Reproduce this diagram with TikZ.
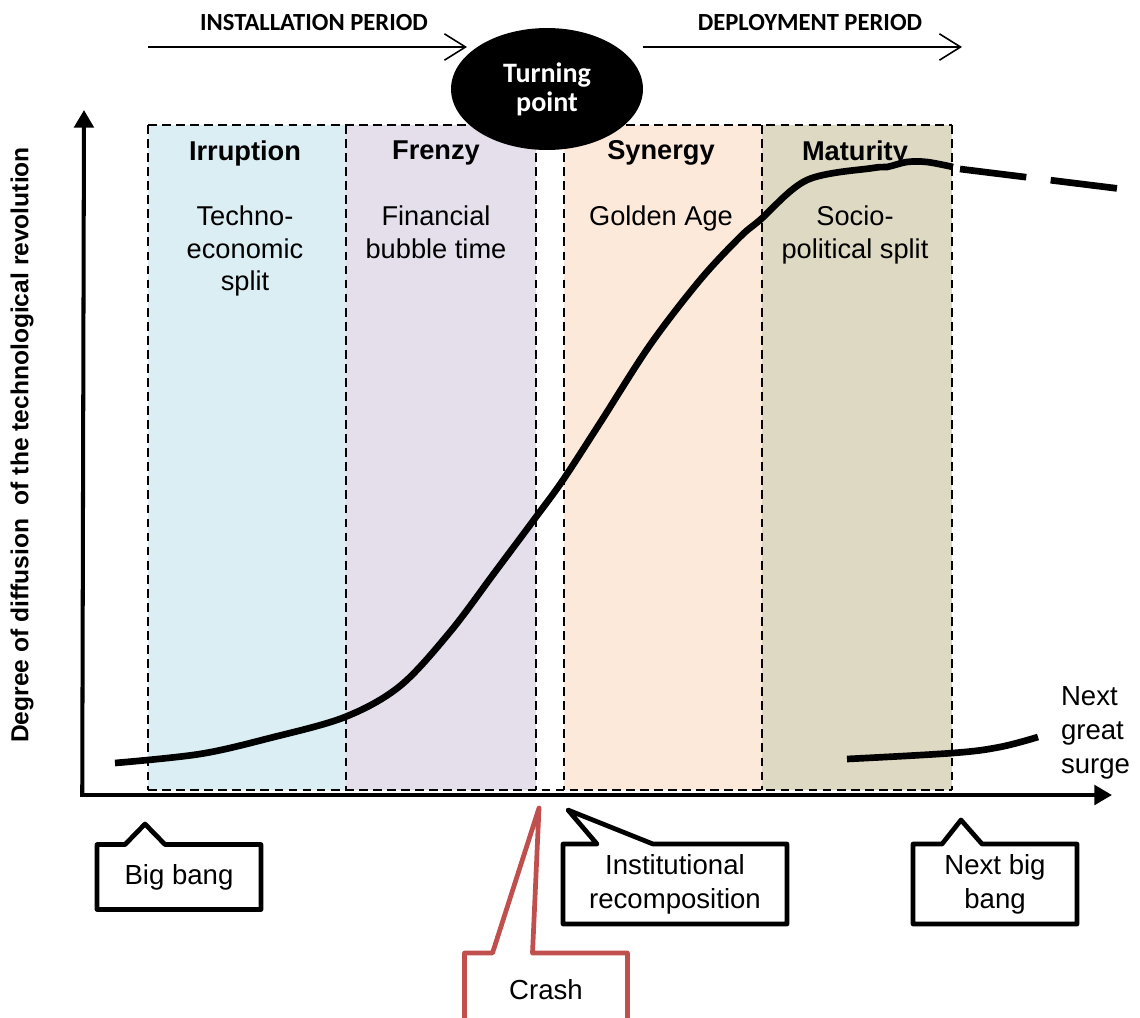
\documentclass[tikz,border=0pt]{standalone}
\usepackage{fontspec}
\setmainfont{Liberation Sans}
\newfontfamily\calibri{Carlito}
\usetikzlibrary{arrows.meta, calc, shapes.geometric}

\definecolor{irrfill}{HTML}{DAEEF3}
\definecolor{frzfill}{HTML}{E5DFEC}
\definecolor{synfill}{HTML}{FDE9D9}
\definecolor{matfill}{HTML}{DDD9C3}
\definecolor{crashred}{HTML}{C0504D}

\tikzset{
  phasebox/.style={draw, dash pattern=on 5pt off 3pt, line width=1pt},
  phasename/.style={font=\fontsize{15.5}{18.5}\selectfont\bfseries},
  phasetext/.style={align=center, font=\fontsize{15.5}{18.5}\selectfont},
  periodlabel/.style={font=\calibri\fontsize{14}{16}\selectfont\bfseries},
  periodarrow/.style={line width=0.9pt, -{Straight Barb[length=12pt,width=15pt,line width=0.9pt]}},
  calltext/.style={inner sep=0pt, outer sep=0pt, align=center, font=\fontsize{15.7}{19.5}\selectfont},
  callline/.style={line width=2.7pt, line join=round},
  surge/.style={line width=3.8pt},
  axisline/.style={line width=2.3pt, -{Triangle[length=10pt,width=11pt]}},
}

\begin{document}
\begin{tikzpicture}[x=0.02cm, y=-0.02cm]
  \clip (0,0) rectangle (1140,1018);

  % phases of the surge
  \fill[irrfill] (148,125) rectangle (346,790);
  \fill[frzfill] (346,125) rectangle (536,790);
  \fill[synfill] (564,125) rectangle (762,790);
  \fill[matfill] (762,125) rectangle (952,790);
  \draw[phasebox] (148,125) -- (952,125);
  \draw[phasebox] (148,790) -- (952,790);
  \foreach \px in {148,346,536,564,762,952}
    \draw[phasebox] (\px,125) -- (\px,790);

  \node[phasename] (irruption) at (245,153) {Irruption};
  \node[phasename] (frenzy)    at (436,153) {Frenzy};
  \node[phasename] (synergy)   at (661,153) {Synergy};
  \node[phasename] (maturity)  at (855,153) {Maturity};
  \node[phasetext, anchor=north] (irrtext) at (245,200) {Techno-\\economic\\split};
  \node[phasetext, anchor=north] (frztext) at (436,200) {Financial\\bubble time};
  \node[phasetext, anchor=north] (syntext) at (661,200) {Golden Age};
  \node[phasetext, anchor=north] (mattext) at (855,200) {Socio-\\political split};

  % axes
  \coordinate (origin) at (84,795);
  \coordinate (ytop)   at (84,110);
  \coordinate (xend)   at (1112,795);
  \draw[axisline] ([xshift=-1pt]origin) -- (ytop);
  \draw[axisline] ([xshift=-2pt]origin) -- (xend);
  \node[rotate=90, font=\fontsize{14}{16}\selectfont\bfseries] (ylabel) at (22,445)
    {Degree of diffusion~ of the technological revolution};

  % the great surge
  \draw[surge] plot[smooth, tension=0.55] coordinates {
    (115,763) (200,754) (270,738) (345,717) (400,686) (450,632) (495,572)
    (536,517) (563,480) (600,423) (650,345) (700,280) (740,237) (760,220)
    (807,180) (873,168) (887,167) (907,162) (927,162) (953,167)};
  \draw[surge, dash pattern=on 38pt off 14pt] (960,169) -- (1122,189);
  \draw[surge] plot[smooth, tension=0.6] coordinates {
    (847,759) (953,753) (1000,747) (1038,737)};
  \node[calltext, align=left, anchor=west] (nextsurge) at (1061,733) {Next\\great\\surge};

  % periods
  \coordinate (instA) at (148,47);
  \coordinate (instB) at (467,47);
  \coordinate (depA)  at (643,47);
  \coordinate (depB)  at (962,47);
  \draw[periodarrow] (instA) -- (instB);
  \draw[periodarrow] (depA) -- (depB);
  \node[periodlabel] (installation) at (314,23) {INSTALLATION PERIOD};
  \node[periodlabel] (deployment)   at (810,23) {DEPLOYMENT PERIOD};
  \node[ellipse, fill=black, inner sep=0pt, minimum width=3.84cm, minimum height=2.44cm,
    text=white, align=center, font=\calibri\fontsize{16}{16.5}\selectfont\bfseries]
    (turning) at (547,89) {Turning\\point};

  % callouts
  \node[calltext, minimum width=3.28cm, minimum height=1.3cm] (bigbang) at (179,877) {Big bang};
  \coordinate (bbtip) at (145,824);
  \draw[callline] (bigbang.north west) -- ($(bigbang.north west)+(28,0)$) -- (bbtip)
    -- ($(bigbang.north west)+(68,0)$) -- (bigbang.north east) -- (bigbang.south east)
    -- (bigbang.south west) -- cycle;

  \node[calltext, minimum width=4.48cm, minimum height=1.6cm] (institutional) at (675,884)
    {Institutional\\recomposition};
  \coordinate (insttip) at (568,810);
  \draw[callline] (institutional.north west) -- ($(institutional.north west)+(34,0)$) -- (insttip)
    -- ($(institutional.north west)+(90,0)$) -- (institutional.north east)
    -- (institutional.south east) -- (institutional.south west) -- cycle;

  \node[calltext, minimum width=3.28cm, minimum height=1.6cm] (nextbang) at (995,884) {Next big\\bang};
  \coordinate (nbtip) at (961,820);
  \draw[callline] (nextbang.north west) -- ($(nextbang.north west)+(29,0)$) -- (nbtip)
    -- ($(nextbang.north west)+(69,0)$) -- (nextbang.north east) -- (nextbang.south east)
    -- (nextbang.south west) -- cycle;

  \node[calltext, minimum width=3.26cm, minimum height=1.48cm] (crash) at (546,990) {Crash};
  \coordinate (crashtip) at (539,808);
  \draw[callline, crashred] (crash.north west) -- ($(crash.north west)+(28,0)$) -- (crashtip)
    -- ($(crash.north west)+(68,0)$) -- (crash.north east) -- (crash.south east)
    -- (crash.south west) -- cycle;
\end{tikzpicture}
\end{document}
